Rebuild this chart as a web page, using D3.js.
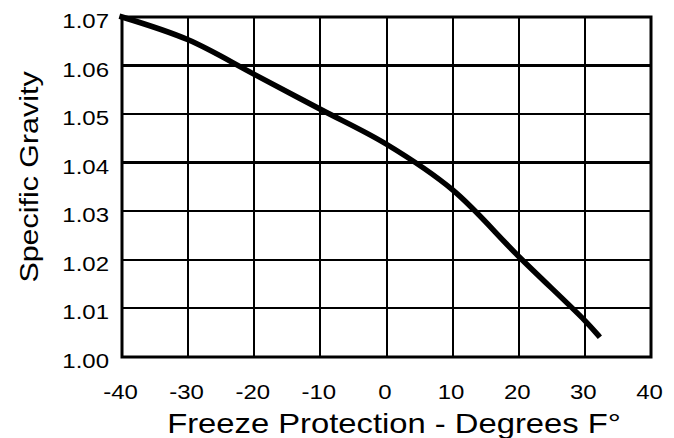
<!DOCTYPE html>
<html>
<head>
<meta charset="utf-8">
<script src="https://cdn.jsdelivr.net/npm/d3@7"></script>
<style>
  html, body { margin: 0; padding: 0; background: #fff; }
  svg { display: block; }
  text { font-family: "Liberation Sans", Arial, sans-serif; fill: #000; }
</style>
</head>
<body>
<svg id="chart" width="674" height="438"></svg>
<script>
// freeze protection (deg F) vs specific gravity
var temps = [-40, -30, -20, -10, 0, 10, 20, 30, 32];
var gravity = [1.070, 1.0653, 1.0582, 1.0510, 1.0438, 1.0344, 1.0207, 1.0075, 1.0045];

var xTicks = [-40, -30, -20, -10, 0, 10, 20, 30, 40];
var yTicks = [1.00, 1.01, 1.02, 1.03, 1.04, 1.05, 1.06, 1.07];

var xTitle = 'Freeze Protection - Degrees F\u00b0';
var yTitle = 'Specific Gravity';

var svg = d3.select('#chart');
var box = { left: 122, right: 651, top: 17, bottom: 357 };
var stretch = 'scale(1.17,1)'; // the scanned lettering is wider than Arial

var x = d3.scaleLinear().domain([-40, 40]).range([box.left, box.right]);
var y = d3.scaleLinear().domain([1.00, 1.07]).range([box.bottom, box.top]);

// grid
var grid = svg.append('g').attr('stroke', '#000').attr('shape-rendering', 'crispEdges');
grid.selectAll('line.v').data(xTicks.slice(1, -1)).enter().append('line')
  .attr('class', 'v')
  .attr('x1', function(d) { return x(d); }).attr('x2', function(d) { return x(d); })
  .attr('y1', box.top).attr('y2', box.bottom)
  .attr('stroke-width', 2);
grid.selectAll('line.h').data(yTicks.slice(1, -1)).enter().append('line')
  .attr('class', 'h')
  .attr('x1', box.left).attr('x2', box.right)
  .attr('y1', function(d) { return y(d); }).attr('y2', function(d) { return y(d); })
  .attr('stroke-width', function(d) { return (d === 1.04 || d === 1.06) ? 3 : 2; });

// frame
svg.append('rect')
  .attr('x', box.left).attr('y', box.top)
  .attr('width', box.right - box.left).attr('height', box.bottom - box.top)
  .attr('fill', 'none').attr('stroke', '#000').attr('stroke-width', 3);

// axes: labels only, the grid is drawn above
var xAxis = d3.axisBottom(x).tickValues(xTicks).tickSize(0).tickPadding(0)
  .tickFormat(function(d) { return String(d); });
var yAxis = d3.axisLeft(y).tickValues(yTicks).tickSize(0).tickPadding(0).tickFormat(d3.format('.2f'));

var gx = svg.append('g').attr('transform', 'translate(-2,399)').call(xAxis);
var gy = svg.append('g').attr('transform', 'translate(' + (box.left - 13) + ',4)').call(yAxis);
[gx, gy].forEach(function(g) {
  g.select('.domain').remove();
  g.selectAll('text')
    .attr('font-size', 20.5)
    .attr('font-family', '"Liberation Sans", Arial, sans-serif')
    .attr('fill', '#000')
    .attr('transform', stretch);
});
gx.selectAll('text').attr('dy', 0).attr('y', 0);

// curve
var line = d3.line()
  .x(function(d, i) { return x(temps[i]); })
  .y(function(d) { return y(d); })
  .curve(d3.curveCatmullRom.alpha(0.5));
svg.append('path')
  .datum(gravity)
  .attr('d', line)
  .attr('fill', 'none')
  .attr('stroke', '#000')
  .attr('stroke-width', 5.5)
  .attr('stroke-linejoin', 'round')
  .attr('stroke-linecap', 'square');

// titles
svg.append('text')
  .attr('transform', 'translate(394,433) ' + stretch)
  .attr('text-anchor', 'middle')
  .attr('font-size', 28)
  .text(xTitle);
svg.append('text')
  .attr('transform', 'translate(38,177) rotate(-90) ' + stretch)
  .attr('text-anchor', 'middle')
  .attr('font-size', 26)
  .text(yTitle);
</script>
</body>
</html>
